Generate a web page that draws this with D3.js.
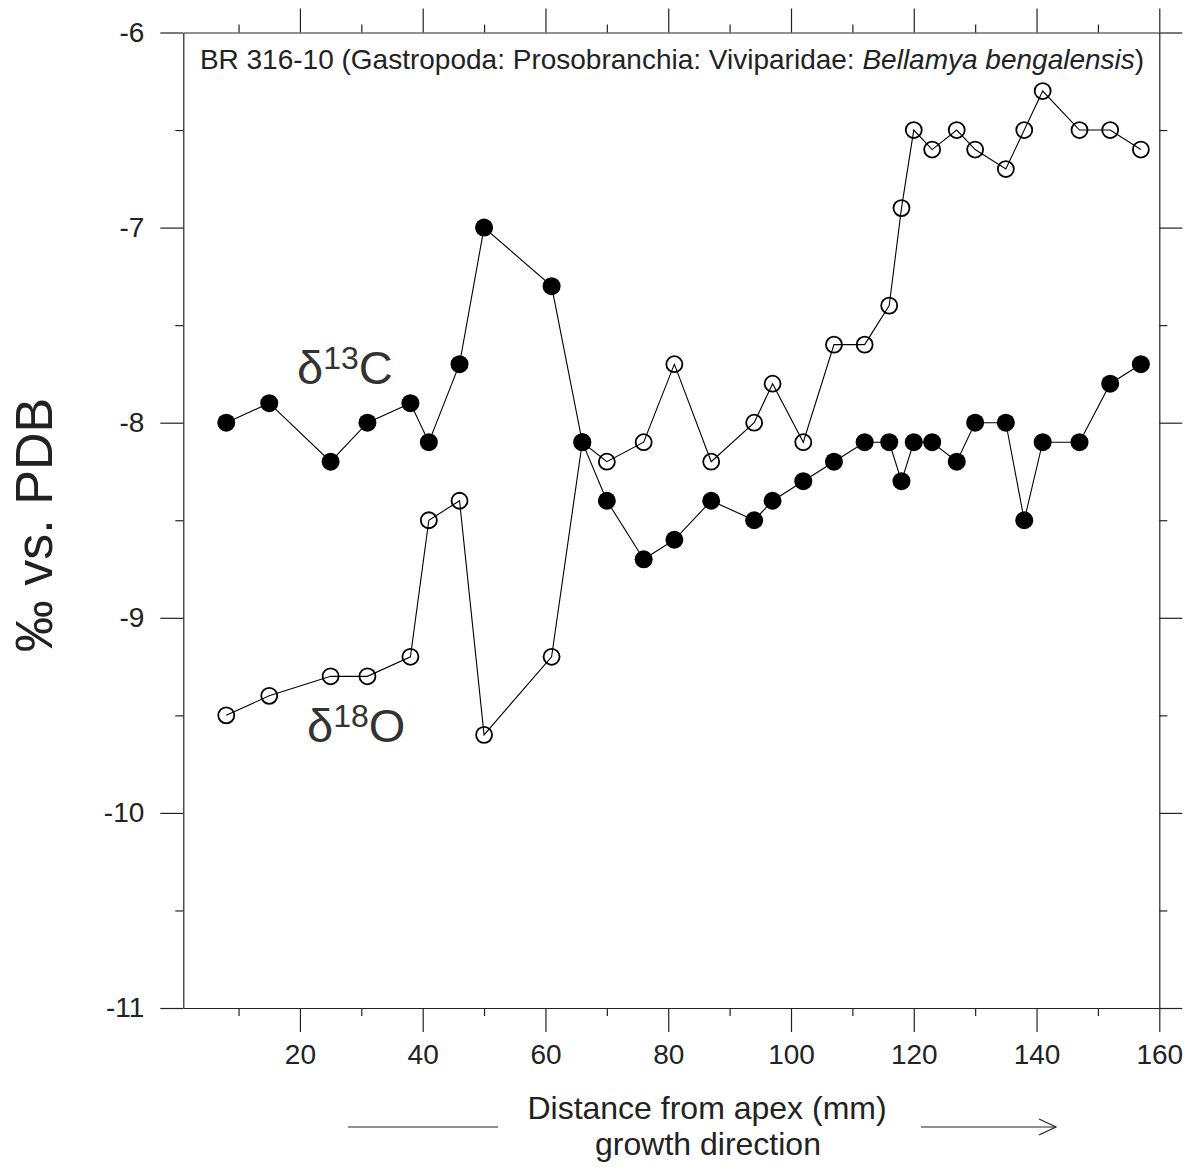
<!DOCTYPE html>
<html>
<head>
<meta charset="utf-8">
<script src="https://cdn.jsdelivr.net/npm/d3@7"></script>
<style>
  html, body { margin: 0; padding: 0; background: #fff; }
  svg { display: block; font-family: "Liberation Sans", Arial, Helvetica, sans-serif; }
</style>
</head>
<body>
<svg id="chart" width="1190" height="1169"></svg>
<script>
// Sampling positions along the shell (mm from apex)
const distance = [8, 15, 25, 31, 38, 41, 46, 50, 61, 66, 70, 76, 81, 87, 94, 97,
                  102, 107, 112, 116, 118, 120, 123, 127, 130, 135, 138, 141, 147, 152, 157];
// Carbon isotope values (‰ vs. PDB)
const d13C = [-8.0, -7.9, -8.2, -8.0, -7.9, -8.1, -7.7, -7.0, -7.3, -8.1, -8.4, -8.7, -8.6, -8.4, -8.5, -8.4,
              -8.3, -8.2, -8.1, -8.1, -8.3, -8.1, -8.1, -8.2, -8.0, -8.0, -8.5, -8.1, -8.1, -7.8, -7.7];
// Oxygen isotope values (‰ vs. PDB)
const d18O = [-9.5, -9.4, -9.3, -9.3, -9.2, -8.5, -8.4, -9.6, -9.2, -8.1, -8.2, -8.1, -7.7, -8.2, -8.0, -7.8,
              -8.1, -7.6, -7.6, -7.4, -6.9, -6.5, -6.6, -6.5, -6.6, -6.7, -6.5, -6.3, -6.5, -6.5, -6.6];

const xMajor = [20, 40, 60, 80, 100, 120, 140, 160];
const xMinor = [10, 30, 50, 70, 90, 110, 130, 150];
const yMajor = [-6, -7, -8, -9, -10, -11];
const yMinor = [-6.5, -7.5, -8.5, -9.5, -10.5];

const svg = d3.select("#chart");
const x = d3.scaleLinear().domain([1, 160]).range([183.3, 1159.3]);
const y = d3.scaleLinear().domain([-11, -6]).range([1008, 32.5]);

const ink = "#222";
const axisFont = 28;
const plain = d => String(d);   // keep an ASCII hyphen for negatives

function styleAxis(g, showDomain) {
  g.selectAll("path.domain").attr("stroke", ink).attr("stroke-width", 1.2)
    .style("display", showDomain ? null : "none");
  g.selectAll(".tick line").attr("stroke", ink).attr("stroke-width", 1.2);
  g.selectAll(".tick text").attr("fill", ink).style("font-size", axisFont + "px")
    .style("font-family", '"Liberation Sans", Arial, sans-serif');
}

// Bottom axis with labels
svg.append("g").attr("transform", `translate(0,${y(-11)})`)
  .call(d3.axisBottom(x).tickValues(xMajor).tickSize(24).tickSizeOuter(0).tickPadding(12).tickFormat(plain))
  .call(g => styleAxis(g, true));
svg.append("g").attr("transform", `translate(0,${y(-11)})`)
  .call(d3.axisBottom(x).tickValues(xMinor).tickSize(8).tickFormat(""))
  .call(g => styleAxis(g, false));

// Top axis (ticks only)
svg.append("g").attr("transform", `translate(0,${y(-6)})`)
  .call(d3.axisTop(x).tickValues(xMajor).tickSize(24).tickSizeOuter(0).tickFormat(""))
  .call(g => styleAxis(g, true));
svg.append("g").attr("transform", `translate(0,${y(-6)})`)
  .call(d3.axisTop(x).tickValues(xMinor).tickSize(8).tickFormat(""))
  .call(g => styleAxis(g, false));

// Left axis with labels
svg.append("g").attr("transform", `translate(${x(1)},0)`)
  .call(d3.axisLeft(y).tickValues(yMajor).tickSize(23).tickSizeOuter(0).tickPadding(16).tickFormat(plain))
  .call(g => styleAxis(g, true));
svg.append("g").attr("transform", `translate(${x(1)},0)`)
  .call(d3.axisLeft(y).tickValues(yMinor).tickSize(8).tickFormat(""))
  .call(g => styleAxis(g, false));

// Right axis (ticks only)
svg.append("g").attr("transform", `translate(${x(160)},0)`)
  .call(d3.axisRight(y).tickValues(yMajor).tickSize(23).tickSizeOuter(0).tickFormat(""))
  .call(g => styleAxis(g, true));
svg.append("g").attr("transform", `translate(${x(160)},0)`)
  .call(d3.axisRight(y).tickValues(yMinor).tickSize(8).tickFormat(""))
  .call(g => styleAxis(g, false));

// Specimen title inside the frame
const title = svg.append("text")
  .attr("x", 672).attr("y", 69).attr("text-anchor", "middle")
  .attr("fill", ink).style("font-size", "28px");
title.append("tspan").text("BR 316-10 (Gastropoda: Prosobranchia: Viviparidae: ");
title.append("tspan").style("font-style", "italic").text("Bellamya bengalensis");
title.append("tspan").text(")");

// Y axis title
svg.append("text")
  .attr("transform", "translate(52,525) rotate(-90)")
  .attr("text-anchor", "middle").attr("fill", ink)
  .style("font-size", "52px")
  .text("‰ vs. PDB");

// X axis title and growth-direction arrow
svg.append("text").attr("x", 707).attr("y", 1119).attr("text-anchor", "middle")
  .attr("fill", ink).style("font-size", "32px").text("Distance from apex (mm)");
svg.append("text").attr("x", 708).attr("y", 1155).attr("text-anchor", "middle")
  .attr("fill", ink).style("font-size", "32px").text("growth direction");
svg.append("line").attr("x1", 348).attr("x2", 498).attr("y1", 1127).attr("y2", 1127)
  .attr("stroke", ink).attr("stroke-width", 1.2);
svg.append("line").attr("x1", 921).attr("x2", 1056).attr("y1", 1127).attr("y2", 1127)
  .attr("stroke", ink).attr("stroke-width", 1.2);
svg.append("path").attr("d", "M1039,1119 L1056,1127 L1039,1135")
  .attr("fill", "none").attr("stroke", ink).attr("stroke-width", 1.2);

// Series
const line = d3.line().x((d, i) => x(distance[i])).y(d => y(d));

svg.append("path").datum(d18O).attr("d", line)
  .attr("fill", "none").attr("stroke", "#000").attr("stroke-width", 1.1);
svg.append("path").datum(d13C).attr("d", line)
  .attr("fill", "none").attr("stroke", "#000").attr("stroke-width", 1.1);

svg.append("g").selectAll("circle").data(d18O).join("circle")
  .attr("cx", (d, i) => x(distance[i])).attr("cy", d => y(d))
  .attr("r", 8).attr("fill", "none").attr("stroke", "#000").attr("stroke-width", 1.8);

svg.append("g").selectAll("circle").data(d13C).join("circle")
  .attr("cx", (d, i) => x(distance[i])).attr("cy", d => y(d))
  .attr("r", 9).attr("fill", "#000");

// Series labels
function isoLabel(px, py, mass, element) {
  const t = svg.append("text").attr("x", px).attr("y", py).attr("fill", "#333")
    .style("font-size", "47px");
  t.append("tspan").text("δ");
  t.append("tspan").attr("dy", -15).style("font-size", "32px").text(mass);
  t.append("tspan").attr("dy", 15).text(element);
}
isoLabel(297, 384, "13", "C");
isoLabel(307, 742, "18", "O");
</script>
</body>
</html>
